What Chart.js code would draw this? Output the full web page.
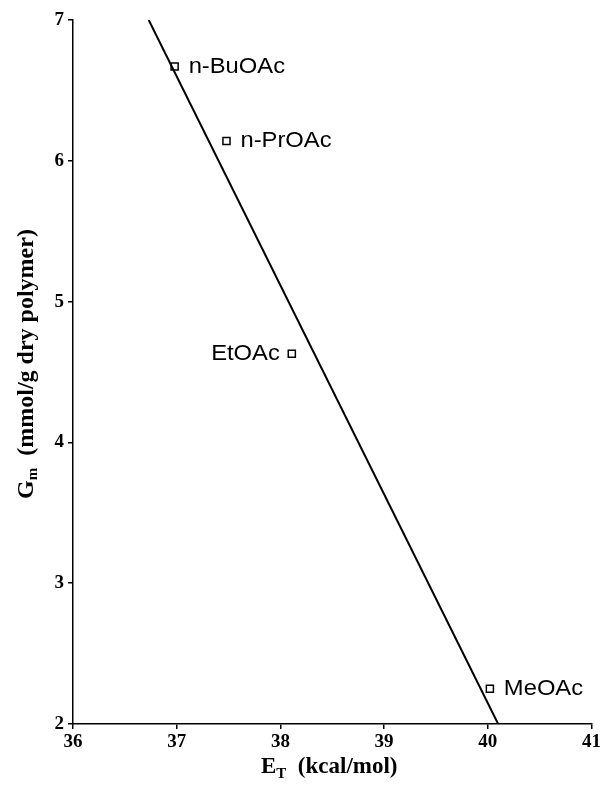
<!DOCTYPE html>
<html>
<head>
<meta charset="utf-8">
<script src="https://cdn.jsdelivr.net/npm/chart.js@4/dist/chart.umd.min.js"></script>
<style>
  html, body { margin: 0; padding: 0; background: #fff; }
  canvas { display: block; }
</style>
</head>
<body>
<canvas id="cntx_gm" width="603" height="786"></canvas>
<script>
// solvents, E_T (kcal/mol) and G_m (mmol/g dry polymer)
const solvents = ["n-BuOAc", "n-PrOAc", "EtOAc", "MeOAc"];
const et_values = [36.98, 37.48, 38.11, 40.02];
const gm_values = [6.67, 6.14, 4.63, 2.25];
const label_side = ["right", "right", "left", "right"];

// fitted straight line, end points
const fit_x = [36.73, 40.1];
const fit_y = [7.0, 2.0];

const x_ticks = [36, 37, 38, 39, 40, 41];
const y_ticks = [2, 3, 4, 5, 6, 7];

const points = et_values.map((x, i) => ({ x: x, y: gm_values[i] }));
const fit_line = fit_x.map((x, i) => ({ x: x, y: fit_y[i] }));

const serif = "'Liberation Serif', 'DejaVu Serif', serif";
const tickFont = { family: serif, size: 19, weight: "bold" };

// labels next to the points + axis titles with subscripts
const labelPlugin = {
	id: "labels",
	afterDraw: (chart) => {
		const ctx = chart.ctx;
		const xs = chart.scales.x;
		const ys = chart.scales.y;
		const area = chart.chartArea;
		ctx.save();
		ctx.fillStyle = "#000";
		ctx.textBaseline = "middle";
		ctx.font = "22px 'Liberation Sans', Arial, sans-serif";
		solvents.forEach((name, i) => {
			const px = xs.getPixelForValue(et_values[i]);
			const py = ys.getPixelForValue(gm_values[i]);
			ctx.save();
			if (label_side[i] === "left") {
				ctx.translate(px - 12, py);
				ctx.scale(1.08, 1);
				ctx.textAlign = "right";
			} else {
				ctx.translate(px + 14, py);
				ctx.scale(1.08, 1);
				ctx.textAlign = "left";
			}
			ctx.fillText(name, 0, 0);
			ctx.restore();
		});

		// x title: E_T (kcal/mol)
		const big = "bold 23px " + serif;
		const small = "bold 15px " + serif;
		ctx.textAlign = "left";
		ctx.textBaseline = "alphabetic";
		ctx.font = big;
		const wE = ctx.measureText("E").width;
		const wRest = ctx.measureText("  (kcal/mol)").width;
		ctx.font = small;
		const wT = ctx.measureText("T").width;
		let x0 = (area.left + area.right) / 2 - 3 - (wE + wT + wRest) / 2;
		const yb = 773;
		ctx.font = big;
		ctx.fillText("E", x0, yb);
		ctx.font = small;
		ctx.fillText("T", x0 + wE, yb + 5);
		ctx.font = big;
		ctx.fillText("  (kcal/mol)", x0 + wE + wT, yb);

		// y title: G_m (mmol/g dry polymer)
		const bigY = "bold 24px " + serif;
		ctx.translate(33, 364);
		ctx.rotate(-Math.PI / 2);
		ctx.font = bigY;
		const wG = ctx.measureText("G").width;
		const wR = ctx.measureText("  (mmol/g dry polymer)").width;
		ctx.font = small;
		const wm = ctx.measureText("m").width;
		x0 = -(wG + wm + wR) / 2;
		ctx.font = bigY;
		ctx.fillText("G", x0, 0);
		ctx.font = small;
		ctx.fillText("m", x0 + wG, 4);
		ctx.font = bigY;
		ctx.fillText("  (mmol/g dry polymer)", x0 + wG + wm, 0);
		ctx.restore();
	},
};

drawChart = (canvas) => {
	const myChart = new Chart(canvas, {
		type: "scatter",
		data: {
			datasets: [
				{
					label: "fit",
					data: fit_line,
					showLine: true,
					pointRadius: 0,
					borderColor: "#000",
					borderWidth: 2,
					fill: false,
				},
				{
					label: "solvents",
					data: points,
					pointStyle: "rect",
					pointRadius: 5,
					backgroundColor: "#fff",
					borderColor: "#000",
					borderWidth: 1.5,
				},
			],
		},
		options: {
			responsive: false,
			animation: false,
			devicePixelRatio: 1,
			layout: { padding: { top: 20, right: 10, left: 0, bottom: 0 } },
			plugins: {
				legend: { display: false },
				tooltip: { enabled: false },
			},
			scales: {
				x: {
					type: "linear",
					min: 36,
					max: 41,
					afterFit: (s) => { s.height = 62; },
					afterBuildTicks: (s) => { s.ticks = x_ticks.map((v) => ({ value: v })); },
					ticks: { color: "#000", font: tickFont, padding: 2, maxRotation: 0 },
					grid: { drawOnChartArea: false, drawTicks: true, tickLength: 5, color: "#000", lineWidth: 1.5 },
					border: { display: true, color: "#000", width: 1.5 },
				},
				y: {
					type: "linear",
					min: 2,
					max: 7,
					afterFit: (s) => { s.width = 73; },
					afterBuildTicks: (s) => { s.ticks = y_ticks.map((v) => ({ value: v })); },
					ticks: { color: "#000", font: tickFont, padding: 4 },
					grid: { drawOnChartArea: false, drawTicks: true, tickLength: 5, color: "#000", lineWidth: 1.5 },
					border: { display: true, color: "#000", width: 1.5 },
				},
			},
		},
		plugins: [labelPlugin],
	});
};
drawChart(document.querySelector("#cntx_gm"));
</script>
</body>
</html>
